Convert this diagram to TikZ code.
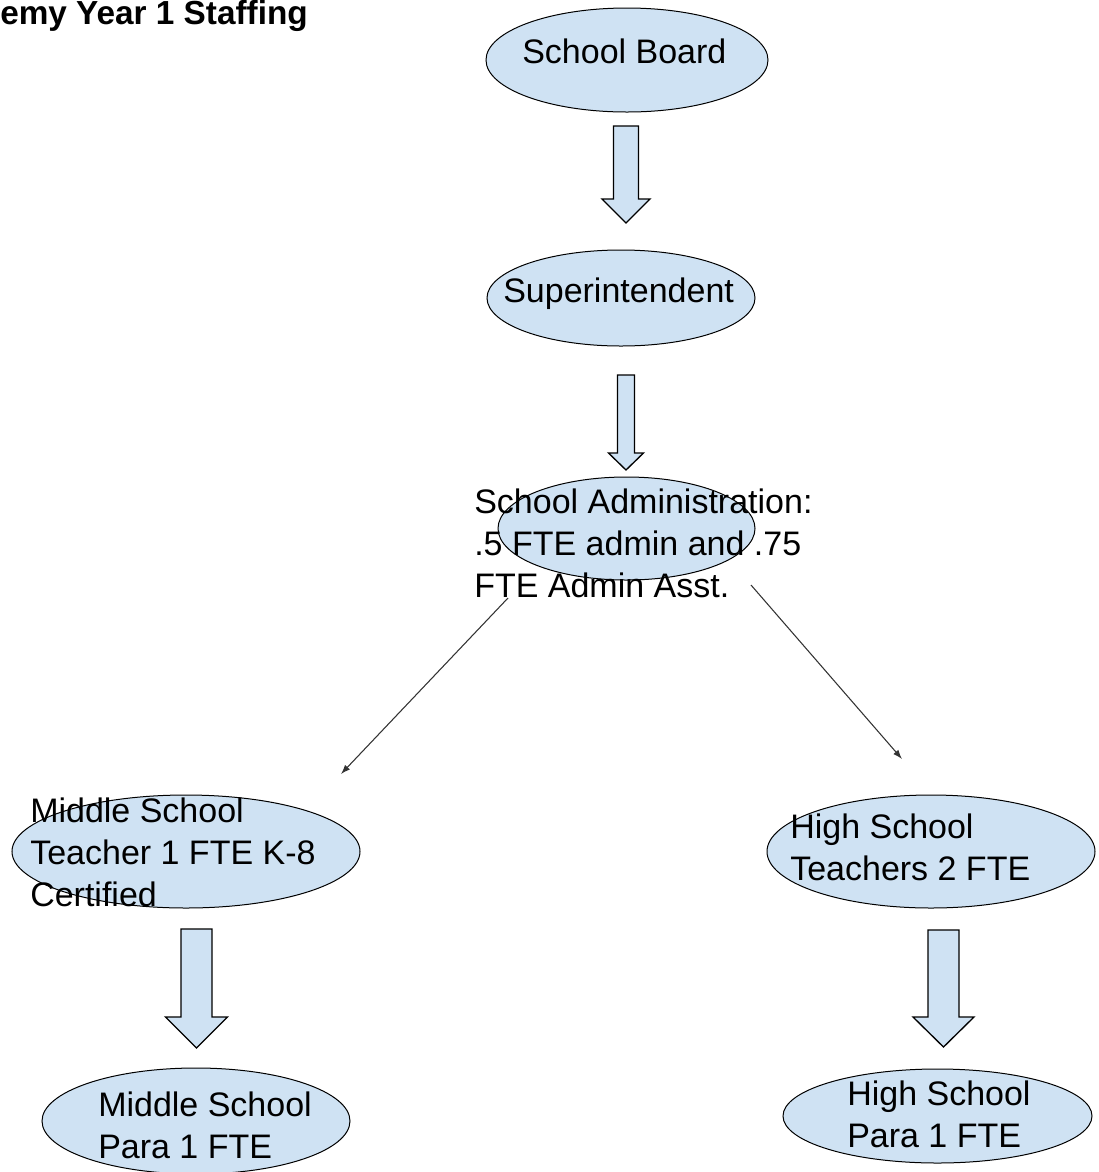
\documentclass[tikz,border=0pt]{standalone}
\usepackage{fontspec}
\setmainfont{Liberation Sans}
\usetikzlibrary{positioning, arrows.meta, shapes.geometric}
\definecolor{paleblue}{HTML}{CFE2F3}

% block arrow pointing down: centre x, top, head start, tip, half shaft, half head
\newcommand{\downblock}[6]{%
  \draw[blockarrow] ({#1-#5},#2) -- ({#1+#5},#2) -- ({#1+#5},#3) -- ({#1+#6},#3)
    -- (#1,#4) -- ({#1-#6},#3) -- ({#1-#5},#3) -- cycle;}

\begin{document}
\begin{tikzpicture}[x=0.75pt, y=-0.75pt]
    \tikzstyle{bubble} = [ellipse, draw, fill=paleblue, line width=0.75pt, inner sep=0pt]
    \tikzstyle{label} = [anchor=base west, inner sep=0pt, align=left,
                         font=\fontsize{25.5pt}{31.5pt}\selectfont]
    \tikzstyle{blockarrow} = [draw, fill=paleblue, line width=1pt, line join=miter]
    \tikzstyle{link} = [draw=black!80, line width=0.8pt, -{Latex[length=7pt, width=5pt]}]

    \clip (0,0) rectangle (1099,1172);
    \useasboundingbox (0,0) rectangle (1099,1172);

    % Title
    \node[anchor=base west, inner sep=0pt, font=\fontsize{25pt}{30pt}\selectfont\bfseries]
        (title) at (0,24) {emy Year 1 Staffing};

    % Top chain (multi-line labels sit on their last baseline)
    \node[bubble, minimum width=211.5pt, minimum height=78pt] (board) at (627,60) {};
    \node[label] (boardtxt) at (522,63) {School Board};

    \node[bubble, minimum width=201pt, minimum height=72pt] (super) at (621,298) {};
    \node[label] (supertxt) at (503,302) {Superintendent};

    \node[bubble, minimum width=192.75pt, minimum height=77.25pt] (admin) at (626.5,528.5) {};
    \node[label] (admintxt) at (474,597) {School Administration:\\.5 FTE admin and .75\\FTE Admin Asst.};

    \downblock{626}{126}{199}{223}{12.5}{24}
    \downblock{626}{375}{453}{470}{8.5}{17.5}

    % Left branch (middle school)
    \node[bubble, minimum width=261pt, minimum height=84.75pt] (msteach) at (186,851.5) {};
    \node[label] (msteachtxt) at (30,906) {Middle School\\Teacher 1 FTE K-8\\Certified};

    \node[bubble, minimum width=231pt, minimum height=79.5pt] (mspara) at (196,1121) {};
    \node[label] (msparatxt) at (98,1158) {Middle School\\Para 1 FTE};

    \downblock{196.5}{929}{1017}{1048}{15.5}{31}

    % Right branch (high school)
    \node[bubble, minimum width=246pt, minimum height=84.75pt] (hsteach) at (931,851.5) {};
    \node[label] (hsteachtxt) at (790,880) {High School\\Teachers 2 FTE};

    \node[bubble, minimum width=231.75pt, minimum height=70.5pt] (hspara) at (937.5,1116) {};
    \node[label] (hsparatxt) at (847,1147) {High School\\Para 1 FTE};

    \downblock{943.5}{930}{1017}{1047}{15.5}{30.5}

    % Thin arrows
    \coordinate (lstart) at (508,598);
    \coordinate (lend) at (341,774);
    \coordinate (rstart) at (751,585);
    \coordinate (rend) at (902,759);
    \draw[link] (lstart) -- (lend);
    \draw[link] (rstart) -- (rend);
\end{tikzpicture}
\end{document}
